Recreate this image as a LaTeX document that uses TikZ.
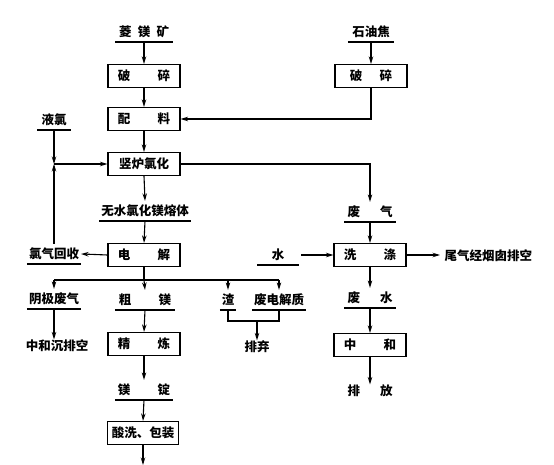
\documentclass[tikz,border=0pt]{standalone}
\usepackage{fontspec}
\setmainfont{Noto Sans CJK SC}
\usetikzlibrary{arrows.meta}
\begin{document}
\begin{tikzpicture}[x=1pt,y=-1pt,
  font=\fontsize{12.5}{14}\selectfont\bfseries,
  line width=1.1pt,
  box/.style={draw, rectangle, minimum width=72pt, minimum height=23pt, inner sep=0pt},
  lab/.style={inner sep=0pt, minimum height=19pt, anchor=south},
  txt/.style={inner sep=0pt},
  arr/.style={-{Stealth[length=7.5pt,width=4.5pt]}}]
\useasboundingbox[fill=white] (0,0) rectangle (554,465);
% labels with underline
\node[lab, minimum width=56pt] (lmk) at (144,42) {菱\hspace{0.5em}镁\hspace{0.5em}矿};
\node[lab, minimum width=45pt] (syj) at (371,42) {石油焦};
\node[lab, minimum width=32pt] (yl) at (54,130) {液氯};
\node[lab, minimum width=90pt] (wsl) at (145,221) {无水氯化镁熔体};
\node[lab, minimum width=50pt] (fq) at (370,222) {废\hspace{1.6em}气};
\node[lab, minimum width=53pt] (lqhs) at (54,264) {氯气回收};
\node[lab, minimum width=40pt] (shui) at (278,265) {水};
\node[lab, minimum width=53pt] (yjfq) at (54,309) {阴极废气};
\node[lab, minimum width=59pt] (cm) at (145,310) {粗\hspace{2.2em}镁};
\node[lab, minimum width=15pt] (zha) at (228,310) {渣};
\node[lab, minimum width=52pt] (fdj) at (279,310) {废电解质};
\node[lab, minimum width=50pt] (fs) at (370,308) {废\hspace{1.6em}水};
\node[lab, minimum width=57pt] (md) at (144,400) {镁\hspace{2.2em}锭};
\foreach \n in {lmk,syj,yl,wsl,fq,lqhs,shui,yjfq,cm,zha,fdj,fs,md}
  \draw (\n.south west) -- (\n.south east);
% boxes
\node[box] (ps1) at (144,76) {破\hspace{2.2em}碎};
\node[box] (ps2) at (371,76) {破\hspace{1.4em}碎};
\node[box] (pl) at (144,119) {配\hspace{2.2em}料};
\node[box] (slh) at (144,164) {竖炉氯化};
\node[box] (dj) at (144,255) {电\hspace{2.2em}解};
\node[box] (xd) at (370,255) {洗\hspace{2.2em}涤};
\node[box] (jl) at (144,344) {精\hspace{2.2em}炼};
\node[box] (zh) at (370,345) {中\hspace{2.2em}和};
\node[box, minimum width=71pt] (sx) at (143,433) {酸洗、包装};
% plain texts
\node[txt] (zhc) at (57,346) {中和沉排空};
\node[txt] (pq) at (257,347) {排弃};
\node[txt] (pf) at (370,391) {排\hspace{1.6em}放};
\node[txt, anchor=west] (wq) at (444,256) {尾气经烟囱排空};
\coordinate (bot) at (143,465);
% connectors, main column
\draw[arr] (lmk.south) -- (ps1.north);
\draw[arr] (ps1.south) -- (pl.north);
\draw[arr] (pl.south) -- (slh.north);
\draw[arr] (slh.south) -- (wsl.north);
\draw[arr] (wsl.south) -- (dj.north);
\draw[arr] (cm.south) -- (jl.north);
\draw[arr] (jl.south) -- (md.north);
\draw[arr] (md.south) -- (sx.north);
\draw[arr] (sx.south) -- (bot);
% petroleum coke
\draw[arr] (syj.south) -- (ps2.north);
\draw[arr] (ps2.south) |- (pl.east);
% liquid chlorine loop
\coordinate (j1) at (yl.south |- slh.west);
\draw[arr] (yl.south) -- (j1);
\draw[arr] (lqhs.north) -- (j1);
\draw[arr] (j1) -- (slh.west);
% off gas
\draw[arr] (slh.east) -| (fq.north);
\draw[arr] (fq.south) -- (xd.north);
\coordinate (ws) at (301,255);
\draw[arr] (ws) -- (xd.west);
\coordinate (wqa) at (440,255);
\draw[arr] (xd.east) -- (wqa);
\draw[arr] (xd.south) -- (fs.north);
\draw[arr] (fs.south) -- (zh.north);
\draw[arr] (zh.south) -- (pf.north);
% electrolysis
\draw[arr] (dj.west) -- (lqhs.east);
\coordinate (e1) at (dj.south |- 0,280);
\coordinate (eL) at (yjfq.north |- e1);
\coordinate (eR) at (fdj.north |- e1);
\coordinate (eZ) at (zha.north |- e1);
\draw (dj.south) -- (e1);
\draw (eL) -- (eR);
\draw[arr] (eL) -- (yjfq.north);
\draw[arr] (e1) -- (cm.north);
\draw[arr] (eZ) -- (zha.north);
\draw[arr] (eR) -- (fdj.north);
\draw[arr] (yjfq.south) -- (yjfq.south |- zhc.north);
% slag & waste electrolyte
\draw (zha.south) -- ++(0,11) -| (fdj.south);
\coordinate (s2) at (pq.north |- 0,321);
\draw[arr] (s2) -- (pq.north);
\end{tikzpicture}
\end{document}
